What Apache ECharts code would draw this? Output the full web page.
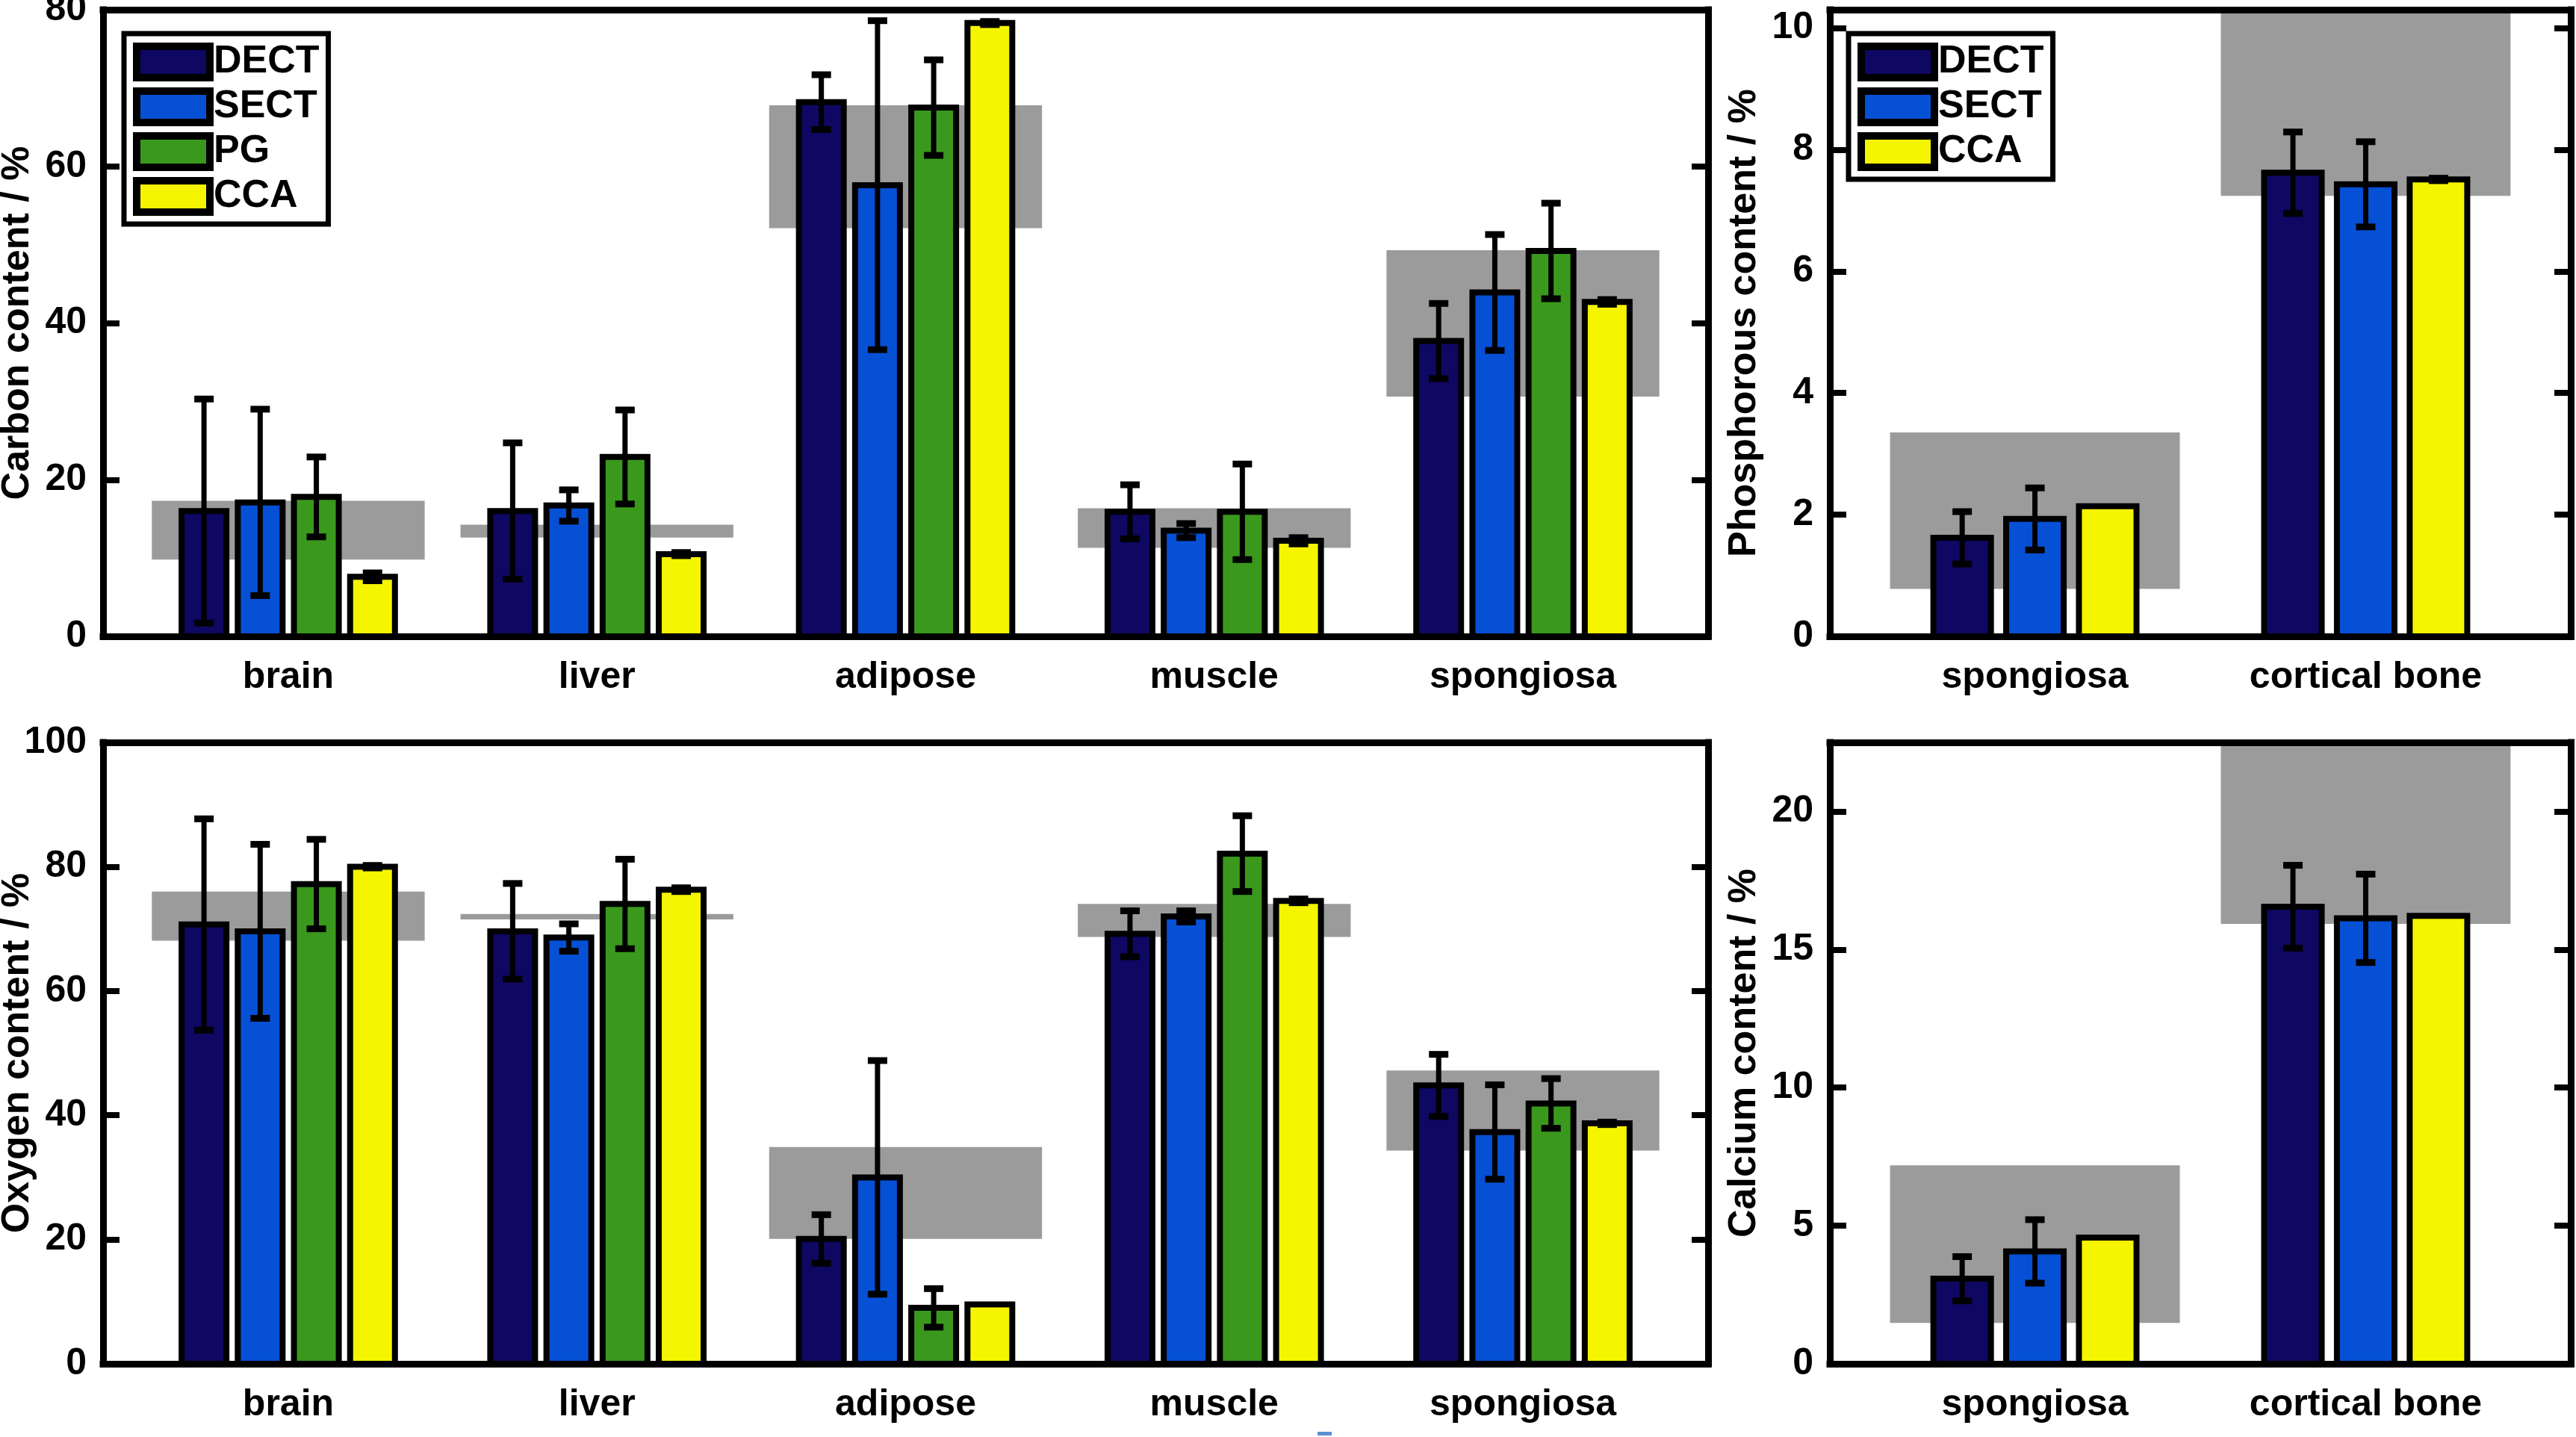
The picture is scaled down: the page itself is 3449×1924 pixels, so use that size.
<!DOCTYPE html>
<html>
<head>
<meta charset="utf-8">
<title>Element content</title>
<script src="https://cdn.jsdelivr.net/npm/echarts@6/dist/echarts.min.js"></script>
<style>
  html, body { margin: 0; padding: 0; background: #fff; }
  #main { width: 3449px; height: 1924px; }
</style>
</head>
<body>
<div id="main"></div>
<script>
// categories
var softTissues = ['brain', 'liver', 'adipose', 'muscle', 'spongiosa'];
var boneTissues = ['spongiosa', 'cortical bone'];

// carbon content / %
var carbonDect = [16.0, 16.0, 68.2, 15.9, 37.7];
var carbonDectErr = [14.3, 8.7, 3.5, 3.45, 4.8];
var carbonSect = [17.1, 16.7, 57.6, 13.5, 43.9];
var carbonSectErr = [11.9, 2.0, 21.0, 0.9, 7.4];
var carbonPg = [17.8, 22.9, 67.5, 15.9, 49.2];
var carbonPgErr = [5.1, 6.0, 6.1, 6.1, 6.1];
var carbonCca = [7.6, 10.5, 78.3, 12.2, 42.7];
var carbonCcaErr = [0.5, 0.2, 0.2, 0.4, 0.3];
var carbonRefLow = [9.8, 12.6, 52.1, 11.3, 30.6];
var carbonRefHigh = [17.3, 14.25, 67.8, 16.35, 49.3];

// oxygen content / %
var oxygenDect = [70.7, 69.6, 20.1, 69.2, 44.8];
var oxygenDectErr = [17.0, 7.7, 3.9, 3.7, 5.0];
var oxygenSect = [69.6, 68.6, 30.0, 72.0, 37.3];
var oxygenSectErr = [14.0, 2.2, 18.8, 0.9, 7.6];
var oxygenPg = [77.2, 74.0, 9.0, 82.1, 41.9];
var oxygenPgErr = [7.2, 7.2, 3.1, 6.1, 4.0];
var oxygenCca = [80.0, 76.3, 9.55, 74.5, 38.7];
var oxygenCcaErr = [0.2, 0.3, 0, 0.3, 0.2];
var oxygenRefLow = [68.1, 71.5, 20.1, 68.7, 34.3];
var oxygenRefHigh = [76.0, 72.4, 34.9, 74.0, 47.2];

// phosphorous content / %
var phosDect = [1.62, 7.62];
var phosDectErr = [0.43, 0.67];
var phosSect = [1.93, 7.43];
var phosSectErr = [0.51, 0.70];
var phosCca = [2.14, 7.51];
var phosCcaErr = [0, 0.02];
var phosRefLow = [0.78, 7.24];
var phosRefHigh = [3.35, 10.6];

// calcium content / %
var calcDect = [3.08, 16.55];
var calcDectErr = [0.8, 1.5];
var calcSect = [4.07, 16.13];
var calcSectErr = [1.15, 1.6];
var calcCca = [4.57, 16.22];
var calcCcaErr = [0, 0];
var calcRefLow = [1.48, 15.93];
var calcRefHigh = [7.19, 23.0];

// tick labels
var carbonTicks = [0, 20, 40, 60, 80];
var oxygenTicks = [0, 20, 40, 60, 80, 100];
var phosTicks = [0, 2, 4, 6, 8, 10];
var calcTicks = [0, 5, 10, 15, 20];

var FONT = 'Liberation Sans';
var COLORS = { DECT: '#0e0862', SECT: '#0650d6', PG: '#3a991c', CCA: '#f5f500' };

// 灰色参考区间
function bandSeries(gridIdx, lo, hi, halfW) {
  var data = [];
  for (var i = 0; i < lo.length; i++) {
    data.push([i + 1, lo[i], hi[i]]);
  }
  return {
    type: 'custom',
    name: 'reference',
    xAxisIndex: gridIdx * 2,
    yAxisIndex: gridIdx * 2,
    z: 1,
    silent: true,
    data: data,
    renderItem: function (params, api) {
      var x = api.value(0);
      var p0 = api.coord([x - halfW, api.value(2)]);
      var p1 = api.coord([x + halfW, api.value(1)]);
      var shape = echarts.graphic.clipRectByRect({
        x: p0[0], y: p0[1], width: p1[0] - p0[0], height: p1[1] - p0[1]
      }, {
        x: params.coordSys.x, y: params.coordSys.y,
        width: params.coordSys.width, height: params.coordSys.height
      });
      if (!shape) return null;
      return { type: 'rect', shape: shape, style: { fill: '#9b9b9b' } };
    }
  };
}

// 柱子 + 误差线
function barSeries(name, gridIdx, vals, errs, offset, halfW) {
  var data = [];
  for (var i = 0; i < vals.length; i++) {
    data.push([i + 1, vals[i], errs[i]]);
  }
  return {
    type: 'custom',
    name: name,
    xAxisIndex: gridIdx * 2,
    yAxisIndex: gridIdx * 2,
    z: 2,
    silent: true,
    itemStyle: { color: COLORS[name], borderColor: '#000', borderWidth: 8 },
    data: data,
    renderItem: function (params, api) {
      var x = api.value(0) + offset;
      var v = api.value(1);
      var e = api.value(2);
      var p0 = api.coord([x - halfW, v]);
      var p1 = api.coord([x + halfW, 0]);
      var children = [{
        type: 'rect',
        shape: { x: p0[0], y: p0[1], width: p1[0] - p0[0], height: p1[1] - p0[1] },
        style: { fill: COLORS[name], stroke: '#000', lineWidth: 8 }
      }];
      if (e > 0) {
        var top = api.coord([x, v + e]);
        var bot = api.coord([x, v - e]);
        var cx = top[0];
        children.push({ type: 'line', shape: { x1: cx, y1: top[1], x2: cx, y2: bot[1] }, style: { stroke: '#000', lineWidth: 7 } });
        children.push({ type: 'line', shape: { x1: cx - 13, y1: top[1], x2: cx + 13, y2: top[1] }, style: { stroke: '#000', lineWidth: 9 } });
        children.push({ type: 'line', shape: { x1: cx - 13, y1: bot[1], x2: cx + 13, y2: bot[1] }, style: { stroke: '#000', lineWidth: 9 } });
      }
      return { type: 'group', children: children };
    }
  };
}

var lineStyle = { color: '#000', width: 9, cap: 'square' };
var labelStyle = { fontSize: 50, fontWeight: 'bold', fontFamily: FONT, color: '#000' };

function xAxes(gridIdx, min, max, cats) {
  var vals = [];
  for (var i = 0; i < cats.length; i++) vals.push(i + 1);
  return [{
    type: 'value', gridIndex: gridIdx, min: min, max: max, position: 'bottom', z: 10,
    axisLine: { show: true, onZero: false, lineStyle: lineStyle },
    axisTick: { show: false },
    axisLabel: Object.assign({
      customValues: vals,
      margin: 30,
      formatter: function (v) { return cats[Math.round(v) - 1]; }
    }, labelStyle),
    splitLine: { show: false }
  }, {
    type: 'value', gridIndex: gridIdx, min: min, max: max, position: 'top', z: 10,
    axisLine: { show: true, onZero: false, lineStyle: lineStyle },
    axisTick: { show: false },
    axisLabel: { show: false },
    splitLine: { show: false }
  }];
}

function yAxes(gridIdx, max, ticks, title) {
  return [{
    type: 'value', gridIndex: gridIdx, min: 0, max: max, position: 'left', z: 10,
    name: title, nameLocation: 'middle', nameGap: 88, nameMoveOverlap: false,
    nameTextStyle: { fontSize: 52, fontWeight: 'bold', fontFamily: FONT, color: '#000' },
    axisLine: { show: true, onZero: false, lineStyle: lineStyle },
    axisTick: { show: true, inside: true, length: 22, customValues: ticks, lineStyle: { color: '#000', width: 8 } },
    axisLabel: Object.assign({ customValues: ticks, margin: 22 }, labelStyle),
    splitLine: { show: false }
  }, {
    type: 'value', gridIndex: gridIdx, min: 0, max: max, position: 'right', z: 10,
    axisLine: { show: true, onZero: false, lineStyle: lineStyle },
    axisTick: { show: true, inside: true, length: 22, customValues: ticks, lineStyle: { color: '#000', width: 8 } },
    axisLabel: { show: false },
    splitLine: { show: false }
  }];
}

function legendItems(names) {
  return names.map(function (n) {
    return { name: n, icon: 'rect', itemStyle: { color: COLORS[n], borderColor: '#000', borderWidth: 10 } };
  });
}

function legendBox(left, names) {
  return {
    orient: 'vertical', left: left, top: 45,
    padding: [12, 12, 11, 12], itemGap: 8, itemWidth: 98, itemHeight: 42,
    backgroundColor: '#fff', borderColor: '#000', borderWidth: 7,
    selectedMode: false,
    textStyle: { fontSize: 52, fontWeight: 'bold', fontFamily: FONT, color: '#000', lineHeight: 50 },
    data: legendItems(names)
  };
}

// 4 bars per soft tissue, 3 per bone tissue
var p4 = 0.182, hw4 = 0.0726, band4 = 0.442;
var p3 = 0.22, hw3 = 0.087, band3 = 0.438;

var myChart = echarts.init(document.getElementById('main'));
var option = {
  backgroundColor: '#fff',
  animation: false,
  grid: [
    { left: 138, top: 13, width: 2149, height: 839, outerBoundsMode: 'none' },
    { left: 2450, top: 13, width: 992, height: 839, outerBoundsMode: 'none' },
    { left: 138, top: 994, width: 2149, height: 832, outerBoundsMode: 'none' },
    { left: 2450, top: 994, width: 992, height: 832, outerBoundsMode: 'none' }
  ],
  xAxis: [].concat(
    xAxes(0, 0.4, 5.6, softTissues),
    xAxes(1, 0.38, 2.62, boneTissues),
    xAxes(2, 0.4, 5.6, softTissues),
    xAxes(3, 0.38, 2.62, boneTissues)
  ),
  yAxis: [].concat(
    yAxes(0, 80, carbonTicks, 'Carbon content / %'),
    yAxes(1, 10.3, phosTicks, 'Phosphorous content / %'),
    yAxes(2, 100, oxygenTicks, 'Oxygen content / %'),
    yAxes(3, 22.5, calcTicks, 'Calcium content / %')
  ),
  legend: [
    legendBox(166, ['DECT', 'SECT', 'PG', 'CCA']),
    legendBox(2475, ['DECT', 'SECT', 'CCA'])
  ],
  graphic: [
    { type: 'rect', left: 1764, top: 1917, shape: { width: 19, height: 5 }, style: { fill: '#5d8fd2' } }
  ],
  series: [
    bandSeries(0, carbonRefLow, carbonRefHigh, band4),
    barSeries('DECT', 0, carbonDect, carbonDectErr, -1.5 * p4, hw4),
    barSeries('SECT', 0, carbonSect, carbonSectErr, -0.5 * p4, hw4),
    barSeries('PG', 0, carbonPg, carbonPgErr, 0.5 * p4, hw4),
    barSeries('CCA', 0, carbonCca, carbonCcaErr, 1.5 * p4, hw4),

    bandSeries(1, phosRefLow, phosRefHigh, band3),
    barSeries('DECT', 1, phosDect, phosDectErr, -p3, hw3),
    barSeries('SECT', 1, phosSect, phosSectErr, 0, hw3),
    barSeries('CCA', 1, phosCca, phosCcaErr, p3, hw3),

    bandSeries(2, oxygenRefLow, oxygenRefHigh, band4),
    barSeries('DECT', 2, oxygenDect, oxygenDectErr, -1.5 * p4, hw4),
    barSeries('SECT', 2, oxygenSect, oxygenSectErr, -0.5 * p4, hw4),
    barSeries('PG', 2, oxygenPg, oxygenPgErr, 0.5 * p4, hw4),
    barSeries('CCA', 2, oxygenCca, oxygenCcaErr, 1.5 * p4, hw4),

    bandSeries(3, calcRefLow, calcRefHigh, band3),
    barSeries('DECT', 3, calcDect, calcDectErr, -p3, hw3),
    barSeries('SECT', 3, calcSect, calcSectErr, 0, hw3),
    barSeries('CCA', 3, calcCca, calcCcaErr, p3, hw3)
  ]
};
myChart.setOption(option);
</script>
</body>
</html>
